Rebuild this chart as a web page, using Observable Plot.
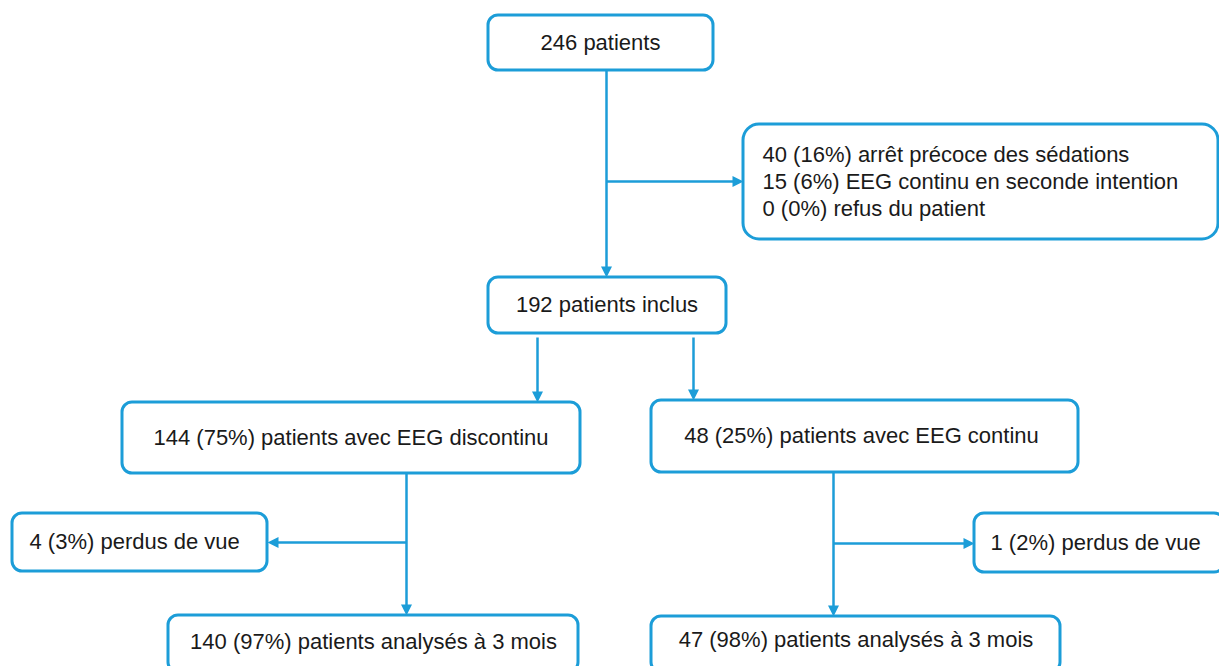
<!DOCTYPE html>
<html>
<head>
<meta charset="utf-8">
<script src="https://cdn.jsdelivr.net/npm/d3@7"></script>
<script src="https://cdn.jsdelivr.net/npm/@observablehq/plot@0.6"></script>
<style>
  html, body { margin: 0; padding: 0; background: #fff; overflow: hidden; }
  #chart svg { display: block; }
</style>
</head>
<body>
<div id="chart"></div>
<script>
// ---- Flowchart content ----
const boxLabels = [
  "246 patients",
  "40 (16%) arrêt précoce des sédations\n15 (6%) EEG continu en seconde intention\n0 (0%) refus du patient",
  "192 patients inclus",
  "144 (75%) patients avec EEG discontinu",
  "48 (25%) patients avec EEG continu",
  "4 (3%) perdus de vue",
  "140 (97%) patients analysés à 3 mois",
  "1 (2%) perdus de vue",
  "47 (98%) patients analysés à 3 mois"
];
// box layout (pixel units of the flowchart canvas)
const boxLeft   = [488, 743, 488, 122, 651,  12, 168, 974, 651];
const boxRight  = [713, 1218, 726, 580, 1078, 267, 578, 1224, 1060];
const boxTop    = [15, 124, 277, 402, 400, 513, 615, 513, 616];
const boxBottom = [70, 239, 333, 473, 472, 571, 672, 572, 672];
const boxRound  = ["s", "l", "s", "s", "s", "s", "s", "s", "s"];
// text anchor per box and text position
const textAlign = ["middle", "start", "middle", "middle", "middle", "start", "middle", "start", "middle"];
const textX = [600, 762, 606.5, 350.5, 861, 29, 373, 990, 855.5];
const textY = [43, 182, 305, 438, 436, 542, 642, 543, 640];

// connectors: start point and arrow tip
const linkX1 = [606, 606, 537, 693, 406, 406, 833, 833];
const linkY1 = [70, 181, 337, 337, 473, 542, 472, 543];
const linkX2 = [606, 743, 537, 693, 406, 267, 833, 974];
const linkY2 = [277, 181, 402, 400, 615, 542, 616, 543];

const blue = "#1c9dd8";
const headLen = 11;

const boxes = boxLabels.map((label, i) => ({
  label, x1: boxLeft[i], x2: boxRight[i], y1: boxTop[i], y2: boxBottom[i],
  round: boxRound[i], align: textAlign[i], tx: textX[i], ty: textY[i]
}));
const links = linkX1.map((x1, i) => {
  const x2 = linkX2[i], y2 = linkY2[i], y1 = linkY1[i];
  const dx = x2 - x1, dy = y2 - y1, len = Math.hypot(dx, dy);
  const ux = dx / len, uy = dy / len;
  return {
    x1, y1, x2, y2,
    ex: x2 - ux * (headLen - 2), ey: y2 - uy * (headLen - 2),
    angle: Math.atan2(dy, dx) * 180 / Math.PI
  };
});

// arrowhead symbol: tip at origin, pointing to +x
const arrowHead = {
  draw(ctx) {
    ctx.moveTo(0, 0);
    ctx.lineTo(-headLen, -5.5);
    ctx.lineTo(-headLen, 5.5);
    ctx.closePath();
  }
};

const textStyle = {
  fontFamily: "'Liberation Sans', Arial, sans-serif",
  fontSize: 22,
  fill: "#1a1a1a",
  lineHeight: 1.23,
  lineAnchor: "middle",
  dy: -2
};

const chart = Plot.plot({
  width: 1219,
  height: 666,
  margin: 0,
  x: { domain: [0, 1219], range: [0, 1219], axis: null },
  y: { domain: [0, 666], range: [0, 666], axis: null },
  marks: [
    Plot.link(links, {
      x1: "x1", y1: "y1", x2: "ex", y2: "ey",
      stroke: blue, strokeWidth: 2.5
    }),
    Plot.dot(links, {
      x: "x2", y: "y2", rotate: "angle",
      symbol: arrowHead, r: 6, fill: blue, stroke: null
    }),
    Plot.rect(boxes.filter(d => d.round === "s"), {
      x1: "x1", x2: "x2", y1: "y1", y2: "y2",
      fill: "white", stroke: blue, strokeWidth: 3, rx: 10
    }),
    Plot.rect(boxes.filter(d => d.round === "l"), {
      x1: "x1", x2: "x2", y1: "y1", y2: "y2",
      fill: "white", stroke: blue, strokeWidth: 3, rx: 16
    }),
    Plot.text(boxes.filter(d => d.align === "middle"), {
      x: "tx", y: "ty", text: "label", textAnchor: "middle", ...textStyle
    }),
    Plot.text(boxes.filter(d => d.align === "start"), {
      x: "tx", y: "ty", text: "label", textAnchor: "start", ...textStyle
    })
  ]
});
document.getElementById("chart").appendChild(chart);
</script>
</body>
</html>
